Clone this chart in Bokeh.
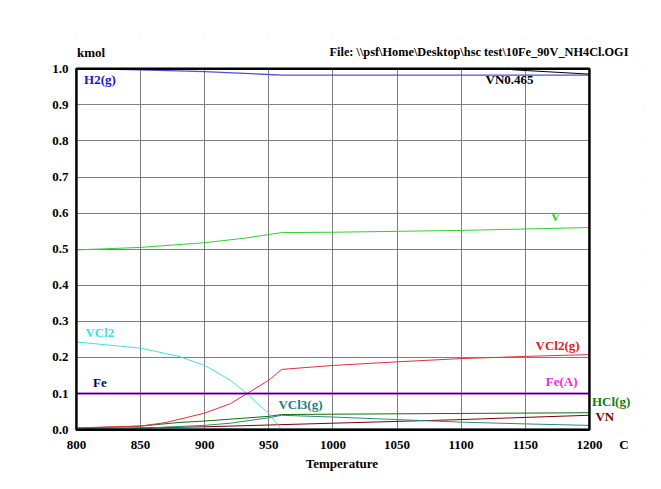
from bokeh.plotting import figure
from bokeh.models import Label, FixedTicker, NumeralTickFormatter, LinearAxis, BoxAnnotation
from bokeh.embed import file_html
from bokeh.resources import INLINE

# ---- data ----
temps_h2 = [800, 850, 900, 950, 960, 1000, 1100, 1200]
h2_g = [1.0, 0.997, 0.992, 0.984, 0.982, 0.982, 0.982, 0.982]

temps_vn465 = [1140, 1200]
vn0465 = [0.997, 0.985]

temps_v = [800, 850, 900, 930, 960, 1000, 1100, 1200]
v_s = [0.498, 0.505, 0.518, 0.530, 0.546, 0.547, 0.552, 0.560]

temps_vcl2 = [800, 850, 880, 900, 920, 933, 950, 960]
vcl2 = [0.243, 0.226, 0.203, 0.178, 0.137, 0.100, 0.044, 0.0]

temps_vcl2g = [800, 850, 870, 900, 920, 933, 950, 960, 1000, 1050, 1100, 1150, 1200]
vcl2_g = [0.005, 0.010, 0.020, 0.046, 0.072, 0.100, 0.137, 0.167, 0.178, 0.188, 0.197, 0.203, 0.208]

temps_fe = [800, 1200]
fe = [0.1, 0.1]
fe_a = [0.1, 0.1]

temps_hcl = [800, 850, 880, 900, 950, 960, 1000, 1100, 1200]
hcl_g = [0.004, 0.010, 0.020, 0.024, 0.037, 0.042, 0.043, 0.045, 0.047]

temps_vcl3 = [800, 850, 900, 920, 950, 960, 1000, 1050, 1100, 1150, 1200]
vcl3_g = [0.002, 0.004, 0.012, 0.018, 0.033, 0.040, 0.035, 0.028, 0.021, 0.016, 0.012]

temps_vn = [800, 850, 900, 950, 1000, 1050, 1100, 1150, 1200]
vn = [0.003, 0.005, 0.008, 0.013, 0.018, 0.023, 0.028, 0.034, 0.040]

temps_low = [800, 1200]
low_species = [0.002, 0.001]

x_ticks = [800, 850, 900, 950, 1000, 1050, 1100, 1150, 1200]
y_ticks = [0.0, 0.1, 0.2, 0.3, 0.4, 0.5, 0.6, 0.7, 0.8, 0.9, 1.0]
x_unit_tick = 1227
x_unit_label = "C"
x_title_tick = 1007
x_title = "Temperature"

FONT = "Liberation Serif"
X0, X1, Y0, Y1 = 800, 1200, 0.0, 1.0

p = figure(x_range=(798.5, 1242.94), y_range=(-0.005, 1.0809),
           frame_width=570, frame_height=392,
           min_border_left=74, min_border_right=1,
           min_border_top=39, min_border_bottom=40,
           output_backend="svg", toolbar_location=None,
           background_fill_color="white", border_fill_color="white")

p.outline_line_color = None

for ax in (p.xaxis, p.yaxis):
    ax.axis_line_color = None
    ax.major_tick_line_color = None
    ax.minor_tick_line_color = None
    ax.major_tick_out = 0
    ax.major_tick_in = 0
    ax.minor_tick_out = 0
    ax.minor_tick_in = 0
    ax.major_label_text_font = FONT
    ax.major_label_text_font_style = "bold"
    ax.major_label_text_font_size = "13px"
    ax.major_label_text_color = "black"

p.xaxis.ticker = FixedTicker(ticks=x_ticks + [x_unit_tick])
p.xaxis.major_label_overrides = {x_unit_tick: x_unit_label}
p.yaxis.ticker = FixedTicker(ticks=y_ticks)
p.yaxis.formatter = NumeralTickFormatter(format="0.0")
p.xaxis.major_label_standoff = 5
p.yaxis.major_label_standoff = 6

title_axis = LinearAxis(ticker=FixedTicker(ticks=[x_title_tick]),
                        major_label_overrides={x_title_tick: x_title},
                        axis_line_color=None, major_tick_line_color=None,
                        minor_tick_line_color=None,
                        major_tick_out=0, major_tick_in=0,
                        minor_tick_out=0, minor_tick_in=0,
                        major_label_text_font=FONT,
                        major_label_text_font_style="bold",
                        major_label_text_font_size="13px",
                        major_label_text_color="black",
                        major_label_standoff=1)
p.add_layout(title_axis, "below")

p.grid.grid_line_color = "#808080"
p.grid.grid_line_width = 1
p.xgrid.ticker = FixedTicker(ticks=x_ticks)
p.ygrid.ticker = FixedTicker(ticks=y_ticks)

# white covers so that the grid stays inside the plot box
for kw in (dict(left=X1), dict(right=X0), dict(bottom=Y1), dict(top=Y0)):
    p.add_layout(BoxAnnotation(fill_color="white", fill_alpha=1.0, line_color=None,
                               level="underlay", **kw))

# ---- lines ----
p.line(temps_low, low_species, line_color="#008080", line_width=1)
p.line(temps_vn, vn, line_color="#800000", line_width=1)
p.line(temps_vcl3, vcl3_g, line_color="#308878", line_width=1)
p.line(temps_hcl, hcl_g, line_color="#107010", line_width=1)
p.line(temps_vcl2, vcl2, line_color="#40e0e0", line_width=1)
p.line(temps_vcl2g, vcl2_g, line_color="#e03040", line_width=1)
p.line(temps_v, v_s, line_color="#30d030", line_width=1)
p.line(temps_fe, fe_a, line_color="#a020d0", line_width=2)
p.line(temps_fe, fe, line_color="#000080", line_width=1)
p.line(temps_h2, h2_g, line_color="#5050d8", line_width=1.3)
p.line(temps_vn465, vn0465, line_color="black", line_width=1)

# plot box
p.add_layout(BoxAnnotation(left=X0, right=X1, bottom=Y0, top=Y1,
                           fill_color=None, line_color="black", line_alpha=1.0,
                           line_width=2.5, level="overlay"))

def lab(x, y, text, color, align="left", size="13px"):
    p.add_layout(Label(x=x, y=y, text=text, text_color=color, text_font=FONT,
                       text_font_style="bold", text_font_size=size,
                       text_align=align, text_baseline="middle"))

lab(806, 0.969, "H2(g)", "#1818c8")
lab(1119, 0.969, "VN0.465", "black")
lab(1173.5, 0.59, "V", "#30d030", align="center")
lab(807, 0.269, "VCl2", "#40e0e0")
lab(1158, 0.233, "VCl2(g)", "#e02020")
lab(813, 0.130, "Fe", "#000080")
lab(1166, 0.133, "Fe(A)", "#e030e0")
lab(957.5, 0.069, "VCl3(g)", "#208080")
lab(1202, 0.078, "HCl(g)", "#108010")
lab(1204.7, 0.036, "VN", "#800000")

# ---- header texts ----
lab(800.5, 1.045, "kmol", "black")
lab(1230.4, 1.045, r"File: \\psf\Home\Desktop\hsc test\10Fe_90V_NH4Cl.OGI", "black",
    align="right", size="12.3px")

open("out.html", "w").write(file_html(p, INLINE))
